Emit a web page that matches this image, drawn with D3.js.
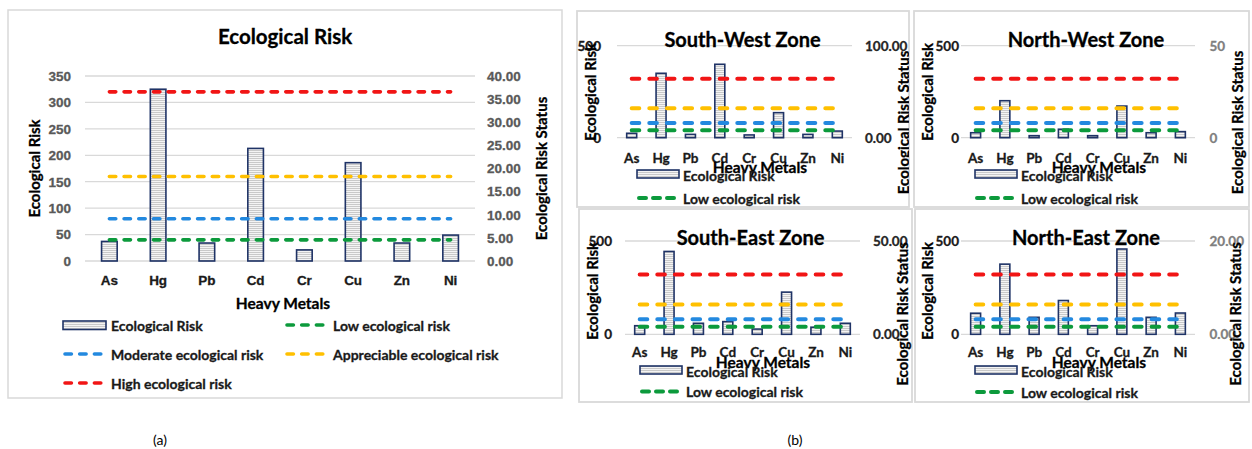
<!DOCTYPE html>
<html>
<head>
<meta charset="utf-8">
<script src="https://cdn.jsdelivr.net/npm/d3@7"></script>
<style>
  html, body { margin: 0; padding: 0; background: #fff; }
  svg { display: block; font-family: Lato, "Open Sans", sans-serif; }
</style>
</head>
<body>
<svg id="chart" width="1252" height="449"></svg>
<script>
// ---- data ----
const metals = ["As", "Hg", "Pb", "Cd", "Cr", "Cu", "Zn", "Ni"];

// Potential ecological risk factor per metal
const overallRisk   = [37, 325, 34, 213, 21, 186, 34, 49];
const southWestRisk = [24, 350, 18, 399, 15, 136, 18, 36];
const northWestRisk = [27, 201, 11, 46, 11, 172, 27, 33];
const southEastRisk = [46, 444, 59, 68, 28, 226, 38, 59];
const northEastRisk = [113, 376, 91, 181, 46, 457, 91, 114];

// Risk class thresholds
const riskClassNames  = ["Low ecological risk", "Moderate ecological risk", "Appreciable ecological risk", "High ecological risk"];
const riskClassValues = [40, 80, 160, 320];
const riskClassColors = ["#0c9a3c", "#2389df", "#ffc000", "#f11515"];

// Axis ticks
const mainLeftTicks  = [0, 50, 100, 150, 200, 250, 300, 350];
const mainRightTicks = [0, 5, 10, 15, 20, 25, 30, 35, 40];
const zoneLeftTicks  = [0, 500];

const zoneNames     = ["South-West Zone", "North-West Zone", "South-East Zone", "North-East Zone"];
const zoneRightMax  = [100, 50, 50, 20];
const zoneRightFmt  = [".2f", "d", ".2f", ".2f"];

// ---- drawing ----
const svg = d3.select("#chart");
const defs = svg.append("defs");

// horizontal-line fill used for the bars
const pat = defs.append("pattern")
  .attr("id", "hlines").attr("patternUnits", "userSpaceOnUse")
  .attr("width", 6).attr("height", 2);
pat.append("rect").attr("width", 6).attr("height", 2).attr("fill", "#f4f4f4");
pat.append("rect").attr("width", 6).attr("height", 1).attr("fill", "#c9c9c9");

const BAR_STROKE = "#1f3366";
const GRID = "#d9d9d9";
const BOX = "#d9d9d9";

function txt(g, x, y, s, opts = {}) {
  const fill = opts.fill || "#000";
  const weight = opts.weight || "bold";
  return g.append("text")
    .attr("x", x).attr("y", y)
    .attr("text-anchor", opts.anchor || "middle")
    .attr("dominant-baseline", opts.baseline || "central")
    .attr("font-size", opts.size || 14)
    .attr("font-weight", weight)
    .attr("fill", fill)
    .attr("stroke", weight === "bold" ? fill : null)
    .attr("stroke-width", weight === "bold" ? 0.3 : null)
    .attr("transform", opts.rotate ? `rotate(${opts.rotate},${x},${y})` : null)
    .text(s);
}

function dashedLine(g, x1, x2, y, color, w, dash) {
  g.append("line")
    .attr("x1", x1).attr("x2", x2).attr("y1", y).attr("y2", y)
    .attr("stroke", color).attr("stroke-width", w)
    .attr("stroke-dasharray", dash).attr("stroke-linecap", "round");
}

// ===== (a) overall chart =====
{
  const g = svg.append("g");
  g.append("rect").attr("x", 8).attr("y", 10).attr("width", 554).attr("height", 388)
    .attr("fill", "#fff").attr("stroke", BOX).attr("stroke-width", 1.5);

  const x = d3.scaleBand().domain(metals).range([85, 475]);
  const y = d3.scaleLinear().domain([0, 350]).range([261, 76]);
  const yR = d3.scaleLinear().domain([0, 40]).range([261, 76]);
  const bw = x.bandwidth();
  const barW = bw * 0.32;

  txt(g, 285, 44, "Ecological Risk", { size: 20.5, baseline: "alphabetic" });

  // gridlines
  g.append("g").selectAll("line").data(mainLeftTicks).join("line")
    .attr("x1", 85).attr("x2", 475)
    .attr("y1", d => y(d)).attr("y2", d => y(d))
    .attr("stroke", GRID).attr("stroke-width", 1.3);

  const axL = g.append("g").attr("transform", "translate(85,0)")
    .call(d3.axisLeft(y).tickValues(mainLeftTicks).tickSize(0).tickPadding(14));
  const axR = g.append("g").attr("transform", "translate(475,0)")
    .call(d3.axisRight(yR).tickValues(mainRightTicks).tickSize(0).tickPadding(12).tickFormat(d3.format(".2f")));
  [axL, axR].forEach(a => {
    a.select(".domain").remove();
    a.selectAll("text").attr("font-size", 13.5).attr("font-weight", "bold").attr("fill", "#595959")
      .attr("stroke", "#595959").attr("stroke-width", 0.3).attr("font-family", null);
  });

  const axB = g.append("g").attr("transform", "translate(0,261)")
    .call(d3.axisBottom(x).tickSize(0).tickPadding(14));
  axB.select(".domain").remove();
  axB.selectAll("text").attr("font-size", 13.5).attr("font-weight", "bold").attr("fill", "#1a1a1a")
    .attr("stroke", "#1a1a1a").attr("stroke-width", 0.3).attr("font-family", null);

  // bars
  g.append("g").selectAll("rect").data(overallRisk).join("rect")
    .attr("x", (d, i) => x(metals[i]) + (bw - barW) / 2)
    .attr("y", d => y(d))
    .attr("width", barW)
    .attr("height", d => y(0) - y(d))
    .attr("fill", "url(#hlines)")
    .attr("stroke", BAR_STROKE).attr("stroke-width", 1.6);

  // threshold lines
  const lx1 = x(metals[0]) + bw / 2, lx2 = x(metals[metals.length - 1]) + bw / 2;
  riskClassValues.forEach((v, i) => dashedLine(g, lx1, lx2, y(v), riskClassColors[i], 3.6, "6.4,8.3"));

  txt(g, 34, 168.5, "Ecological Risk", { size: 15, rotate: -90 });
  txt(g, 541, 168.5, "Ecological Risk Status", { size: 15, rotate: -90 });
  txt(g, 283, 303, "Heavy Metals", { size: 15.5 });

  // legend
  const lg = g.append("g");
  lg.append("rect").attr("x", 63).attr("y", 321).attr("width", 43).attr("height", 8.5)
    .attr("fill", "url(#hlines)").attr("stroke", BAR_STROKE).attr("stroke-width", 1.6);
  txt(lg, 111, 325, "Ecological Risk", { size: 14, anchor: "start", fill: "#1a1a1a" });
  const legendPos = [[285, 325], [63, 354], [285, 354], [63, 383]];
  riskClassNames.forEach((name, i) => {
    const [lx, ly] = legendPos[i];
    dashedLine(lg, lx + 2, lx + 39, ly, riskClassColors[i], 3.6, "6.4,8.3");
    txt(lg, lx + 48, ly, name, { size: 14, anchor: "start", fill: "#1a1a1a" });
  });
}

// ===== (b) zone charts =====
const zoneLayout = [
  { box: [577, 11, 332, 196], plot: [617, 852, 45.7, 137.7], lblL: 601, lblR: 865, titleY: 46.5, catY: 158,
    tL: [590, 92], tR: [903, 122.5], xt: [760, 167], leg: [637, 174, 198] },
  { box: [914, 11, 335, 196], plot: [961, 1195, 45.7, 137.7], lblL: 959, lblR: 1209.5, titleY: 46.5, catY: 158,
    tL: [927, 92], tR: [1237, 122.5], xt: [1099, 167], leg: [975, 174, 198] },
  { box: [579, 209, 333, 193], plot: [625, 860, 241, 334.3], lblL: 612, lblR: 873, titleY: 244.5, catY: 352,
    tL: [592, 291], tR: [902, 314], xt: [763, 362], leg: [640, 370, 391.5] },
  { box: [915, 209, 334, 193], plot: [961, 1195, 241, 334.3], lblL: 959, lblR: 1209.5, titleY: 244.5, catY: 352,
    tL: [927, 291], tR: [1235, 314], xt: [1099, 362], leg: [975, 370, 392] }
];
const zoneValues = [southWestRisk, northWestRisk, southEastRisk, northEastRisk];
const zoneRightColor = ["#262626", "#7f7f7f", "#262626", "#7f7f7f"];

zoneLayout.forEach((L, zi) => {
  const [bx, by, bwid, bht] = L.box;
  const [px0, px1, pyTop, pyBot] = L.plot;
  const clipId = "zclip" + zi;
  defs.append("clipPath").attr("id", clipId)
    .append("rect").attr("x", bx).attr("y", by).attr("width", bwid).attr("height", bht);

  svg.append("rect").attr("x", bx).attr("y", by).attr("width", bwid).attr("height", bht)
    .attr("fill", "#fff").attr("stroke", BOX).attr("stroke-width", 1.8);

  const g = svg.append("g").attr("clip-path", `url(#${clipId})`);
  const x = d3.scaleBand().domain(metals).range([px0, px1]);
  const y = d3.scaleLinear().domain([0, 500]).range([pyBot, pyTop]);
  const yR = d3.scaleLinear().domain([0, zoneRightMax[zi]]).range([pyBot, pyTop]);
  const bw = x.bandwidth();
  const barW = bw * 0.34;

  g.append("g").selectAll("line").data(zoneLeftTicks).join("line")
    .attr("x1", px0).attr("x2", px1)
    .attr("y1", d => y(d)).attr("y2", d => y(d))
    .attr("stroke", GRID).attr("stroke-width", 1.3);

  zoneLeftTicks.forEach(t => txt(g, L.lblL, y(t), String(t), { size: 13.5, anchor: "end", fill: "#1a1a1a" }));
  yR.domain().forEach(t => txt(g, L.lblR, yR(t), d3.format(zoneRightFmt[zi])(t),
    { size: 13.5, anchor: "start", fill: zoneRightColor[zi] }));

  txt(g, (px0 + px1) / 2 + 8, L.titleY, zoneNames[zi], { size: 20, baseline: "alphabetic" });

  metals.forEach(m => txt(g, x(m) + bw / 2, L.catY, m, { size: 13.5, fill: "#1a1a1a" }));

  g.append("g").selectAll("rect").data(zoneValues[zi]).join("rect")
    .attr("x", (d, i) => x(metals[i]) + (bw - barW) / 2)
    .attr("y", d => y(d))
    .attr("width", barW)
    .attr("height", d => y(0) - y(d))
    .attr("fill", "url(#hlines)")
    .attr("stroke", BAR_STROKE).attr("stroke-width", 1.6);

  const lx1 = x(metals[0]) + bw / 2, lx2 = x(metals[metals.length - 1]) + bw / 2;
  riskClassValues.forEach((v, i) => dashedLine(g, lx1, lx2, y(v), riskClassColors[i], 4, "7.6,10"));

  txt(g, L.tL[0], L.tL[1], "Ecological Risk", { size: 15, rotate: -90 });
  txt(g, L.tR[0], L.tR[1], "Ecological Risk Status", { size: 15, rotate: -90 });
  txt(g, L.xt[0], L.xt[1], "Heavy Metals", { size: 15.5 });

  const [lgx, r1, r2] = L.leg;
  g.append("rect").attr("x", lgx).attr("y", r1 - 4).attr("width", 42).attr("height", 8)
    .attr("fill", "url(#hlines)").attr("stroke", BAR_STROKE).attr("stroke-width", 1.6);
  txt(g, lgx + 46, r1 + 1, "Ecological Risk", { size: 14, anchor: "start", fill: "#1a1a1a" });
  dashedLine(g, lgx + 2, lgx + 37, r2, riskClassColors[0], 4, "7,7");
  txt(g, lgx + 46, r2, riskClassNames[0], { size: 14, anchor: "start", fill: "#1a1a1a" });
});

// panel captions
txt(svg, 160, 439, "(a)", { size: 14, weight: "normal" });
txt(svg, 795, 439, "(b)", { size: 14, weight: "normal" });
</script>
</body>
</html>
